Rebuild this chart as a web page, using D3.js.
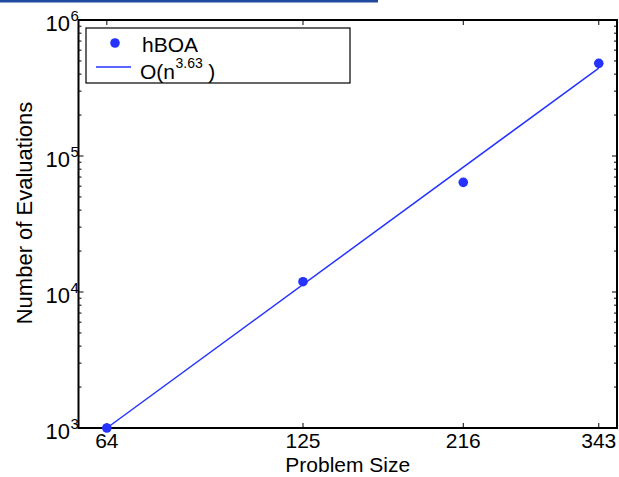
<!DOCTYPE html>
<html><head><meta charset="utf-8">
<script src="https://cdn.jsdelivr.net/npm/d3@7"></script>
<style>
body{margin:0;background:#fff;}
text{font-family:"Liberation Sans",Arial,Helvetica,sans-serif;fill:#000;}
</style></head>
<body>
<svg id="c" width="619" height="477"></svg>
<script>
// data
const sizes = [64, 125, 216, 343];
const evals = [1000, 11900, 64000, 480000];
const fitX = [64, 343];
const fitY = [1000, 443000];
const xTicks = [64, 125, 216, 343];
const yTicks = [1e3, 1e4, 1e5, 1e6];
const yTickExp = ["3", "4", "5", "6"];
const seriesName = "hBOA";
const fitName = "O(n";
const fitExp = "3.63";

const svg = d3.select("#c");
const L = 78.5, R = 617, T = 20, B = 428;
const x = d3.scaleLog().domain([58.1, 365]).range([L, R]);
const y = d3.scaleLog().domain([1e3, 1e6]).range([B, T]);
const blue = "#2633ff";

// top banner bar
svg.append("rect").attr("x",0).attr("y",0).attr("width",378).attr("height",2.5).attr("fill","#1f4aa0");

// ticks
const g = svg.append("g").attr("stroke","#000").attr("stroke-width",1);
xTicks.forEach(v=>{
  const px = x(v);
  g.append("line").attr("x1",px).attr("x2",px).attr("y1",B).attr("y2",B-5);
  g.append("line").attr("x1",px).attr("x2",px).attr("y1",T).attr("y2",T+5);
});
for (let d=3; d<6; d++){
  for (let m=2; m<10; m++){
    const py = y(m*Math.pow(10,d));
    g.append("line").attr("x1",L).attr("x2",L+3).attr("y1",py).attr("y2",py);
    g.append("line").attr("x1",R).attr("x2",R-3).attr("y1",py).attr("y2",py);
  }
}
yTicks.forEach(v=>{
  const py = y(v);
  g.append("line").attr("x1",L).attr("x2",L+5).attr("y1",py).attr("y2",py);
  g.append("line").attr("x1",R).attr("x2",R-5).attr("y1",py).attr("y2",py);
});

// axes box
svg.append("rect").attr("x",L).attr("y",T).attr("width",R-L).attr("height",B-T)
  .attr("fill","none").attr("stroke","#000").attr("stroke-width",2);

// fit line
svg.append("path").datum(fitX.map((v,i)=>[v,fitY[i]]))
  .attr("d", d3.line().x(d=>x(d[0])).y(d=>y(d[1])))
  .attr("fill","none").attr("stroke",blue).attr("stroke-width",1.5);

// points
svg.selectAll("circle.pt").data(sizes.map((v,i)=>[v,evals[i]])).enter()
  .append("circle").attr("class","pt").attr("cx",d=>x(d[0])).attr("cy",d=>y(d[1]))
  .attr("r",4.8).attr("fill",blue);

// x tick labels
xTicks.forEach(v=>{
  svg.append("text").attr("x",x(v)).attr("y",448).attr("text-anchor","middle")
    .attr("font-size",21).text(v);
});
// y tick labels
yTicks.forEach((v,i)=>{
  const py = y(v);
  svg.append("text").attr("x",70).attr("y",py+11).attr("text-anchor","end")
    .attr("font-size",22).text("10");
  svg.append("text").attr("x",70.5).attr("y",py+1).attr("text-anchor","start")
    .attr("font-size",15).text(yTickExp[i]);
});

// axis labels
svg.append("text").attr("x",(L+R)/2).attr("y",472).attr("text-anchor","middle")
  .attr("font-size",21).text("Problem Size");
svg.append("text").attr("transform","translate(32,213) rotate(-90)")
  .attr("text-anchor","middle").attr("font-size",22).text("Number of Evaluations");

// legend
svg.append("rect").attr("x",86).attr("y",28).attr("width",264).attr("height",55)
  .attr("fill","#fff").attr("stroke","#000").attr("stroke-width",1.2);
svg.append("circle").attr("cx",115).attr("cy",43).attr("r",4.8).attr("fill",blue);
svg.append("text").attr("x",142).attr("y",52).attr("font-size",21).text(seriesName);
svg.append("line").attr("x1",96).attr("x2",131).attr("y1",67).attr("y2",67)
  .attr("stroke",blue).attr("stroke-width",1.5);
const t1 = svg.append("text").attr("x",140).attr("y",79).attr("font-size",21).text(fitName);
const w1 = t1.node().getComputedTextLength();
const t2 = svg.append("text").attr("x",140+w1+0.5).attr("y",68).attr("font-size",14).text(fitExp);
const w2 = t2.node().getComputedTextLength();
svg.append("text").attr("x",140+w1+w2+6).attr("y",79).attr("font-size",21).text(")");
</script>
</body></html>
